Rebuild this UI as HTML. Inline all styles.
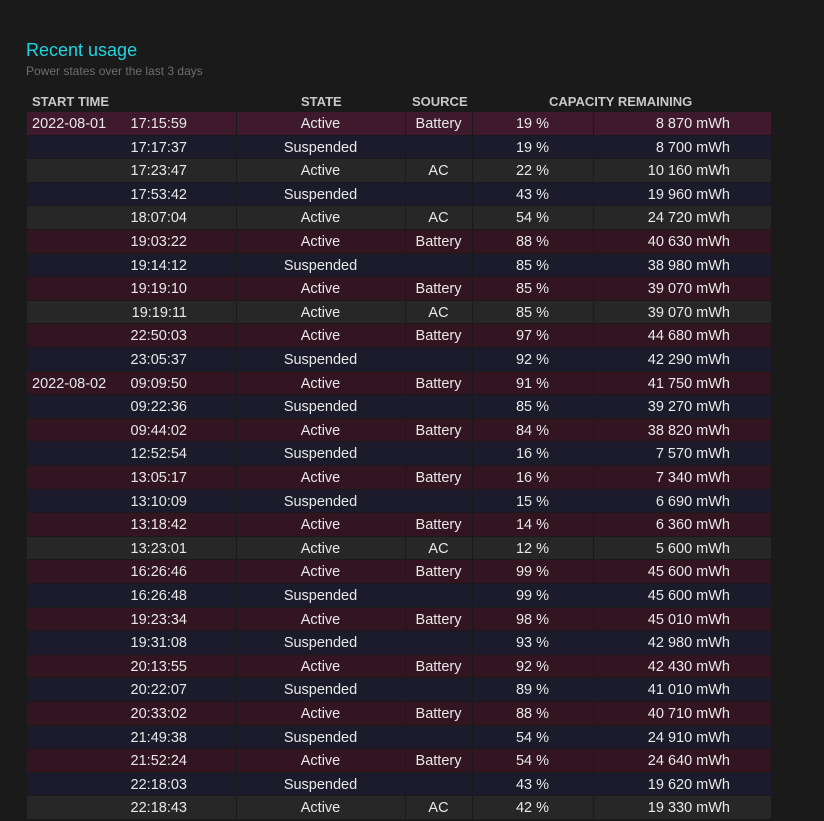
<!DOCTYPE html>
<html><head><meta charset="utf-8"><style>
body{margin:0;background:#1a1a1a;width:824px;height:819px;overflow:hidden;font-family:"Liberation Sans",sans-serif;color:#e8e8e8;position:relative}
.t{position:absolute;left:26px;top:40px;font-size:18px;color:#1fd3e0}
.s{position:absolute;left:26px;top:64px;font-size:12px;color:#6e6e6e}
.h{position:absolute;top:94px;font-size:13px;font-weight:bold;color:#c8c8c8}
.r{position:absolute;left:27px;width:744px;height:22.6px;font-size:14.5px}
.r div{position:absolute;top:0;height:22.6px;line-height:25px;white-space:nowrap}
.b{background:#321520}.su{background:#1c1b2b}.a{background:#272727}.f{background:#3e1a2c}
.v{position:absolute;top:112px;width:1px;height:707px;background:#1a1a1a}
</style></head><body>
<div class="t">Recent usage</div>
<div class="s">Power states over the last 3 days</div>
<div class="h" style="left:32px">START TIME</div>
<div class="h" style="left:301px">STATE</div>
<div class="h" style="left:412px">SOURCE</div>
<div class="h" style="left:549px">CAPACITY REMAINING</div>
<div id="rows"></div>
<div class="v" style="left:236px"></div><div class="v" style="left:405px"></div><div class="v" style="left:472px"></div><div class="v" style="left:593px"></div>
<script>
var d=[
["2022-08-01","17:15:59","Active","Battery","19","8 870","f"],
["","17:17:37","Suspended","","19","8 700","su"],
["","17:23:47","Active","AC","22","10 160","a"],
["","17:53:42","Suspended","","43","19 960","su"],
["","18:07:04","Active","AC","54","24 720","a"],
["","19:03:22","Active","Battery","88","40 630","b"],
["","19:14:12","Suspended","","85","38 980","su"],
["","19:19:10","Active","Battery","85","39 070","b"],
["","19:19:11","Active","AC","85","39 070","a"],
["","22:50:03","Active","Battery","97","44 680","b"],
["","23:05:37","Suspended","","92","42 290","su"],
["2022-08-02","09:09:50","Active","Battery","91","41 750","b"],
["","09:22:36","Suspended","","85","39 270","su"],
["","09:44:02","Active","Battery","84","38 820","b"],
["","12:52:54","Suspended","","16","7 570","su"],
["","13:05:17","Active","Battery","16","7 340","b"],
["","13:10:09","Suspended","","15","6 690","su"],
["","13:18:42","Active","Battery","14","6 360","b"],
["","13:23:01","Active","AC","12","5 600","a"],
["","16:26:46","Active","Battery","99","45 600","b"],
["","16:26:48","Suspended","","99","45 600","su"],
["","19:23:34","Active","Battery","98","45 010","b"],
["","19:31:08","Suspended","","93","42 980","su"],
["","20:13:55","Active","Battery","92","42 430","b"],
["","20:22:07","Suspended","","89","41 010","su"],
["","20:33:02","Active","Battery","88","40 710","b"],
["","21:49:38","Suspended","","54","24 910","su"],
["","21:52:24","Active","Battery","54","24 640","b"],
["","22:18:03","Suspended","","43","19 620","su"],
["","22:18:43","Active","AC","42","19 330","a"]];
var h="";
d.forEach(function(r,i){
var y=112+i*23.6;
h+='<div class="r '+r[6]+'" style="top:'+y+'px">'+
'<div style="left:5px">'+r[0]+'</div>'+
'<div style="right:584px">'+r[1]+'</div>'+
'<div style="left:209px;width:169px;text-align:center">'+r[2]+'</div>'+
'<div style="left:378px;width:67px;text-align:center">'+r[3]+'</div>'+
'<div style="left:445px;width:121px;text-align:center">'+r[4]+' %</div>'+
'<div style="right:41px">'+r[5]+' mWh</div></div>';
});
document.getElementById("rows").innerHTML=h;
</script>
</body></html>
